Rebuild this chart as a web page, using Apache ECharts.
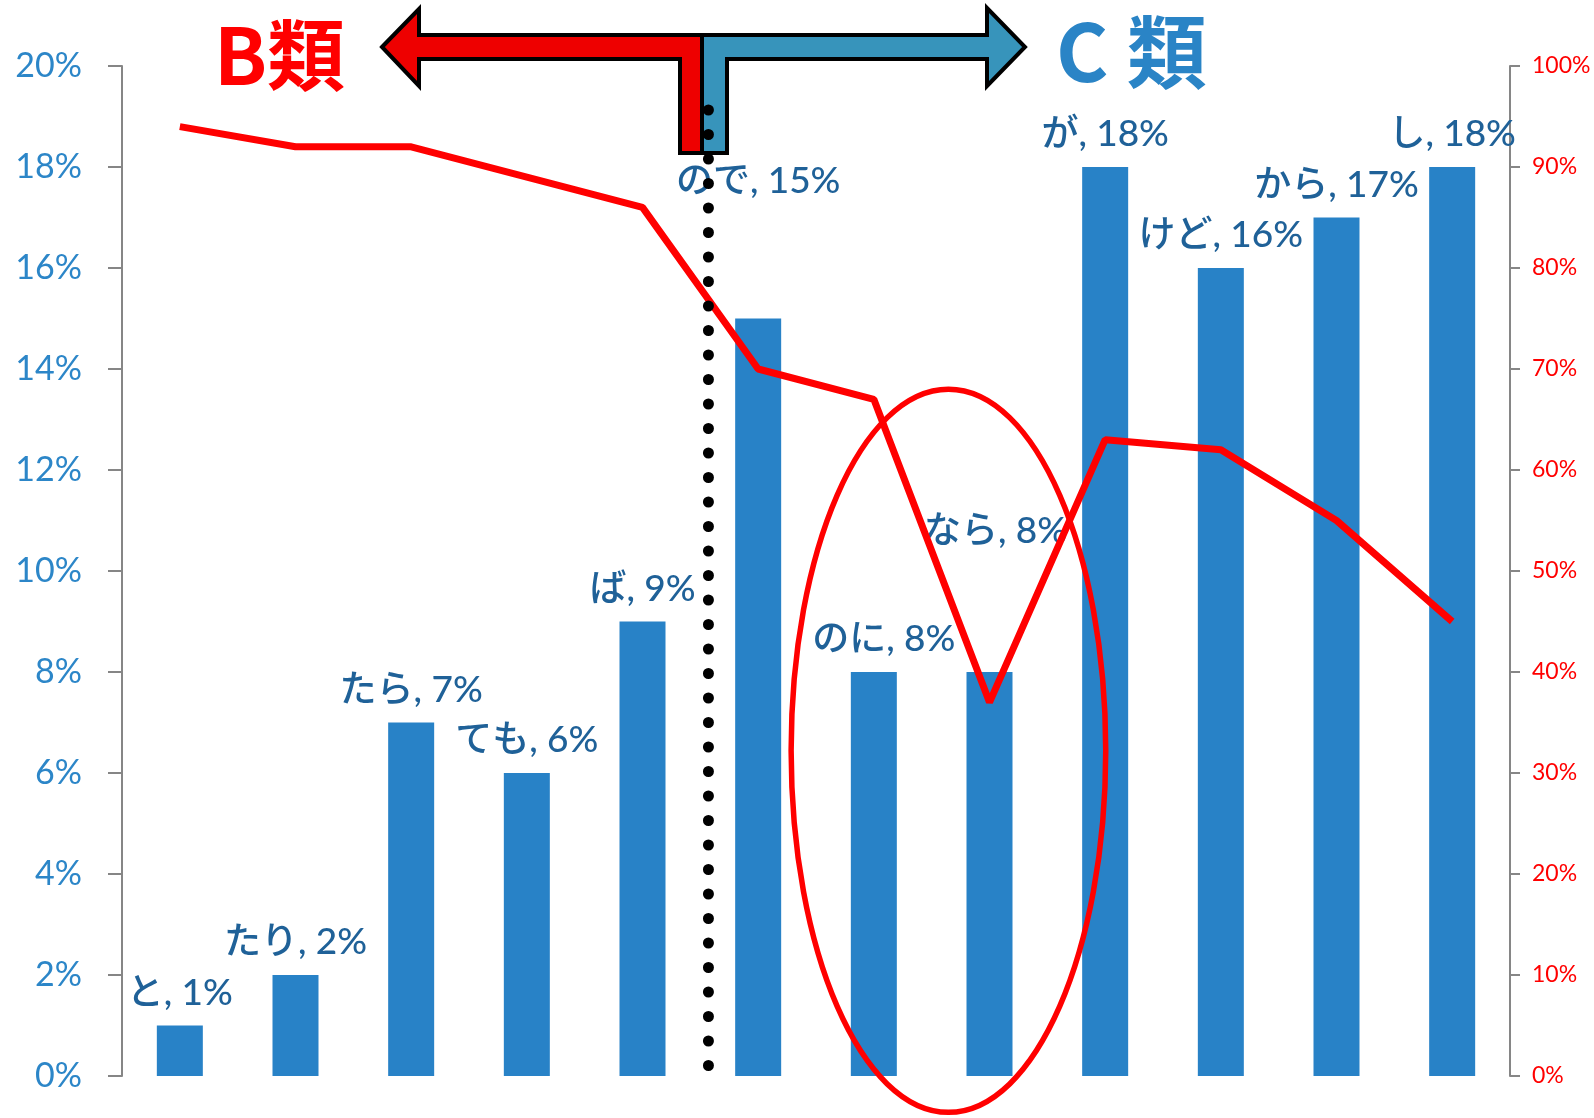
<!DOCTYPE html>
<html>
<head>
<meta charset="utf-8">
<script src="https://cdn.jsdelivr.net/npm/echarts@6/dist/echarts.min.js"></script>
<style>
html,body{margin:0;padding:0;background:#fff;}
#main{width:1594px;height:1118px;}
</style>
</head>
<body>
<div id="main"></div>
<script>
// 接続助詞ごとの割合（棒）と折れ線（右軸）
var categories = ['と', 'たり', 'たら', 'ても', 'ば', 'ので', 'のに', 'なら', 'が', 'けど', 'から', 'し'];
var barValues = [1, 2, 7, 6, 9, 15, 8, 8, 18, 16, 17, 18];
var lineValues = [94, 92, 92, 89, 86, 70, 67, 37, 63, 62, 55, 45];
var leftTicks = [0, 2, 4, 6, 8, 10, 12, 14, 16, 18, 20];
var rightTicks = [0, 10, 20, 30, 40, 50, 60, 70, 80, 90, 100];

// ラベルを手で動かしたもの（index: [dx, dy]）
var labelShift = { 5: [0, -105], 6: [10, 0], 7: [6, -108] };

var FONT = 'Lato, "Noto Sans CJK JP", sans-serif';

var myChart = echarts.init(document.getElementById('main'));

var barData = barValues.map(function (v, i) {
  var item = { value: v };
  if (labelShift[i]) item.label = { offset: labelShift[i] };
  return item;
});

var option = {
  animation: false,
  grid: { left: 122, right: 84, top: 66, bottom: 42 },
  xAxis: {
    type: 'category',
    data: categories,
    axisLine: { show: false },
    axisTick: { show: false },
    axisLabel: { show: false }
  },
  yAxis: [
    {
      type: 'value',
      min: leftTicks[0],
      max: leftTicks[leftTicks.length - 1],
      interval: leftTicks[1] - leftTicks[0],
      splitLine: { show: false },
      axisLine: { show: true, lineStyle: { color: '#868686', width: 2 } },
      axisTick: { show: true, length: 14, lineStyle: { color: '#868686', width: 2 } },
      axisLabel: { formatter: '{value}%', color: '#2C86C8', fontSize: 34, fontFamily: FONT, margin: 40 }
    },
    {
      type: 'value',
      min: rightTicks[0],
      max: rightTicks[rightTicks.length - 1],
      interval: rightTicks[1] - rightTicks[0],
      splitLine: { show: false },
      axisLine: { show: true, lineStyle: { color: '#868686', width: 2 } },
      axisTick: { show: true, length: 10, lineStyle: { color: '#868686', width: 2 } },
      axisLabel: { formatter: '{value}%', color: '#FF0000', fontSize: 23, fontFamily: FONT, margin: 22 }
    }
  ],
  series: [
    {
      type: 'bar',
      data: barData,
      barWidth: 46,
      itemStyle: { color: '#2882C7' },
      label: {
        show: true,
        position: 'top',
        distance: 14,
        color: '#1F6198',
        fontSize: 37,
        fontWeight: 500,
        fontFamily: FONT,
        formatter: function (p) { return p.name + ', ' + p.value + '%'; }
      },
      z: 2
    },
    {
      type: 'line',
      yAxisIndex: 1,
      data: lineValues,
      showSymbol: false,
      symbol: 'none',
      lineStyle: { color: '#FF0000', width: 7 },
      z: 5
    }
  ]
};

myChart.setOption(option);

// 注記（矢印・点線・楕円）
function px(idx, val) {
  return myChart.convertToPixel({ gridIndex: 0 }, [idx, val]);
}
var c4 = px(4, 0), c5 = px(5, 0), c6 = px(6, 0), c7 = px(7, 0);
var dotX = c4[0] + (c5[0] - c4[0]) * 0.57;
var ellCx = c6[0] + (c7[0] - c6[0]) * 0.645;
var ellTop = myChart.convertToPixel({ yAxisIndex: 0 }, 13.6);
var ellBot = myChart.convertToPixel({ yAxisIndex: 0 }, -0.72);
var ellRx = (c7[0] - c6[0]) * 1.36;

myChart.setOption({
  graphic: [
    {
      type: 'polygon',
      z: 20,
      shape: { points: [[382, 47], [419, 9], [419, 35], [702, 35], [702, 153], [680, 153], [680, 59], [419, 59], [419, 86]] },
      style: { fill: '#EE0000', stroke: '#000', lineWidth: 4, lineJoin: 'miter' }
    },
    {
      type: 'polygon',
      z: 20,
      shape: { points: [[702, 35], [987, 35], [987, 8], [1025, 47], [987, 86], [987, 59], [727, 59], [727, 153], [702, 153]] },
      style: { fill: '#3794BB', stroke: '#000', lineWidth: 4, lineJoin: 'miter' }
    },
    {
      type: 'text',
      z: 20,
      left: 214,
      top: 16,
      style: { text: 'B類', fill: '#FF0000', font: 'bold 78px "Noto Sans CJK JP", sans-serif' }
    },
    {
      type: 'text',
      z: 20,
      left: 1056,
      top: 12,
      style: { text: 'C 類', fill: '#2A84C6', font: 'bold 80px "Noto Sans CJK JP", sans-serif' }
    },
    {
      type: 'line',
      z: 30,
      shape: { x1: dotX, y1: 110, x2: dotX, y2: 1072 },
      style: { stroke: '#000', lineWidth: 11, lineCap: 'round', lineDash: [0.1, 24.4] }
    },
    {
      type: 'ellipse',
      z: 25,
      shape: { cx: ellCx, cy: (ellTop + ellBot) / 2, rx: ellRx, ry: (ellBot - ellTop) / 2 },
      style: { fill: 'none', stroke: '#FF0000', lineWidth: 5.5 }
    }
  ]
});
</script>
</body>
</html>
